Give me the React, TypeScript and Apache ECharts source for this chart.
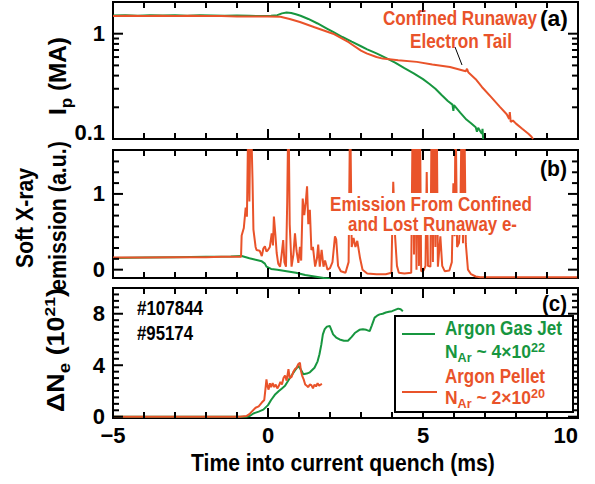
import React, { useEffect, useRef } from "react";
import * as echarts from "echarts";

const GREEN = "#17963F";
const ORANGE = "#E9532A";
const FF = "'Liberation Sans', Arial, Helvetica, sans-serif";

// Shared time axis (ms)
const timeMin = -5;
const timeMax = 10;
const timeStep = 5;
const timeMajorTicks = [-5, 0, 5, 10];
const timeMinorTicks = [-4, -3, -2, -1, 1, 2, 3, 4, 6, 7, 8, 9];

// (a) plasma current Ip (MA)
const ipGasJet: [number, number][] = [
  [-5.0, 1.49], [-4.6, 1.5], [-4.2, 1.48], [-3.8, 1.5], [-3.4, 1.49], [-3.0, 1.5],
  [-2.6, 1.48], [-2.2, 1.5], [-1.8, 1.49], [-1.4, 1.48], [-1.0, 1.49], [-0.6, 1.48],
  [-0.2, 1.47], [0.1, 1.48], [0.3, 1.5], [0.45, 1.56], [0.6, 1.59], [0.75, 1.57],
  [0.9, 1.53], [1.05, 1.48], [1.3, 1.38], [1.6, 1.25], [1.9, 1.12], [2.1, 1.04],
  [2.4, 0.93], [2.7, 0.84], [3.0, 0.76], [3.2, 0.71], [3.5, 0.65], [3.8, 0.59],
  [4.1, 0.53], [4.4, 0.47], [4.7, 0.42], [5.0, 0.37], [5.2, 0.335], [5.4, 0.3],
  [5.6, 0.262], [5.8, 0.23], [5.95, 0.212], [5.98, 0.185], [6.0, 0.21], [6.2, 0.178],
  [6.4, 0.153], [6.55, 0.141], [6.7, 0.129], [6.74, 0.117], [6.78, 0.128], [6.85, 0.118],
  [6.9, 0.112], [6.92, 0.125], [6.94, 0.1], [6.98, 0.108],
];
const ipPellet: [number, number][] = [
  [-5.0, 1.47], [-4.5, 1.48], [-4.0, 1.47], [-3.5, 1.48], [-3.0, 1.47], [-2.5, 1.48],
  [-2.0, 1.47], [-1.5, 1.47], [-1.0, 1.46], [-0.5, 1.46], [0.0, 1.46], [0.4, 1.45],
  [0.7, 1.38], [1.03, 1.29], [1.5, 1.15], [2.1, 1.0], [2.6, 0.83], [3.0, 0.69],
  [3.18, 0.65], [3.5, 0.6], [3.7, 0.58], [4.2, 0.56], [4.8, 0.54], [5.3, 0.51],
  [5.87, 0.483], [6.2, 0.455], [6.38, 0.44], [6.42, 0.465], [6.46, 0.43], [6.7, 0.37],
  [6.9, 0.312], [7.2, 0.25], [7.48, 0.202], [7.7, 0.172], [7.78, 0.155], [7.8, 0.18],
  [7.83, 0.145], [7.9, 0.15], [8.0, 0.14], [8.2, 0.125], [8.4, 0.112], [8.5, 0.105],
  [8.55, 0.1],
];

// (b) soft X-ray emission (a.u.)
const sxrGasJet: [number, number][] = [
  [-5.0, 0.155], [-4.0, 0.16], [-3.0, 0.165], [-2.0, 0.17], [-1.2, 0.175], [-0.85, 0.18],
  [-0.6, 0.15], [-0.4, 0.13], [-0.2, 0.11], [-0.1, 0.08], [-0.05, 0.04], [0.1, 0.01],
  [0.3, 0.0], [0.6, -0.02], [0.9, -0.04], [1.2, -0.07], [1.5, -0.09], [1.8, -0.11],
  [2.0, -0.12],
];
const sxrPellet: [number, number][] = [
  [-5.0, 0.16], [-4.0, 0.16], [-3.0, 0.165], [-2.0, 0.165], [-1.5, 0.17], [-0.87, 0.17],
  [-0.85, 0.45], [-0.78, 0.55], [-0.72, 0.82], [-0.68, 0.7], [-0.64, 1.9], [-0.6, 0.9],
  [-0.56, 2.2], [-0.5, 1.2], [-0.47, 0.53], [-0.4, 0.3], [-0.37, 0.26], [-0.27, 0.25],
  [-0.2, 0.18], [-0.15, 0.28], [-0.1, 0.31], [-0.05, 0.24], [0.0, 0.26], [0.06, 0.3],
  [0.12, 0.48], [0.16, 0.32], [0.19, 0.7], [0.24, 0.45], [0.28, 0.22], [0.33, 0.08],
  [0.39, 0.04], [0.44, 0.2], [0.49, 0.39], [0.53, 0.1], [0.58, 0.04], [0.62, 0.9],
  [0.66, 2.2], [0.7, 0.6], [0.76, 0.04], [0.82, 0.2], [0.87, 0.48], [0.92, 0.25],
  [0.98, 0.09], [1.03, 0.3], [1.07, 0.12], [1.12, 0.94], [1.17, 0.72], [1.22, 0.9],
  [1.26, 1.1], [1.3, 0.6], [1.35, 0.79], [1.4, 0.26], [1.45, 0.3], [1.52, 0.04],
  [1.58, 0.15], [1.62, 0.33], [1.67, 0.04], [1.73, 0.26], [1.79, 0.04], [1.84, 0.12],
  [1.92, 0.0], [2.0, 0.02], [2.08, 0.1], [2.16, 0.44], [2.2, 0.4], [2.26, 0.05],
  [2.35, -0.02], [2.5, -0.04], [2.6, 0.1], [2.65, 2.2], [2.7, 0.3], [2.76, 0.42],
  [2.82, 0.3], [2.88, 0.38], [2.97, 0.15], [3.05, 0.0], [3.2, -0.05], [3.5, -0.06],
  [3.8, -0.06], [3.98, -0.04], [4.04, 1.16], [4.1, 0.44], [4.16, 0.05], [4.22, -0.04],
  [4.4, -0.05], [4.62, -0.04], [4.67, 2.2], [4.71, 0.2], [4.75, 2.2], [4.79, 0.0],
  [4.83, 2.2], [4.87, 0.05], [4.9, 2.2], [4.94, -0.02], [5.02, -0.01], [5.08, 0.05],
  [5.12, 1.29], [5.16, 0.05], [5.24, 0.04], [5.28, 2.2], [5.32, 0.1], [5.36, 2.2],
  [5.4, 0.3], [5.44, 2.2], [5.48, 0.04], [5.56, 0.44], [5.62, 0.05], [5.7, -0.02],
  [5.85, -0.01], [5.93, 0.1], [5.98, 1.14], [6.02, 0.44], [6.05, 2.2], [6.1, 0.3],
  [6.16, 0.35], [6.2, 0.6], [6.25, 2.2], [6.29, 0.35], [6.33, 2.2], [6.38, 0.35],
  [6.45, 0.0], [6.55, -0.06], [6.7, -0.09], [6.85, -0.1], [8.0, -0.1], [10.0, -0.1],
];

// (c) electron inventory change (10^21)
const dneGasJet: [number, number][] = [
  [-5.0, 0.0], [-0.7, 0.0], [-0.6, 0.05], [-0.47, 0.25], [-0.3, 0.4], [-0.15, 0.55],
  [0.0, 0.9], [0.1, 1.3], [0.22, 1.7], [0.35, 2.0], [0.45, 2.2], [0.55, 2.4],
  [0.65, 2.8], [0.76, 3.2], [0.87, 3.6], [0.98, 3.95], [1.05, 3.7], [1.14, 3.3],
  [1.25, 3.35], [1.35, 3.45], [1.5, 3.8], [1.6, 4.3], [1.66, 4.85], [1.72, 5.6],
  [1.77, 6.4], [1.83, 6.8], [1.9, 7.0], [1.99, 7.05], [2.05, 6.7], [2.1, 6.4],
  [2.2, 6.15], [2.31, 6.0], [2.45, 5.9], [2.58, 5.9], [2.7, 6.2], [2.8, 6.5],
  [2.95, 6.75], [3.06, 6.8], [3.17, 6.75], [3.28, 6.65], [3.35, 7.1], [3.44, 7.7],
  [3.52, 7.85], [3.6, 7.95], [3.7, 8.0], [3.8, 8.1], [3.9, 8.15], [4.0, 8.2],
  [4.1, 8.3], [4.2, 8.4], [4.28, 8.35], [4.35, 8.2],
];
const dnePellet: [number, number][] = [
  [-5.0, 0.0], [-0.9, 0.0], [-0.7, 0.05], [-0.6, 0.2], [-0.5, 0.45], [-0.4, 0.7],
  [-0.3, 0.8], [-0.2, 1.1], [-0.12, 1.3], [-0.08, 2.2], [-0.05, 2.9], [-0.02, 2.4],
  [0.02, 2.1], [0.06, 2.6], [0.1, 2.3], [0.15, 2.6], [0.2, 2.3], [0.25, 2.5],
  [0.3, 2.2], [0.35, 2.4], [0.4, 2.7], [0.45, 2.5], [0.5, 3.0], [0.55, 3.2],
  [0.6, 2.8], [0.66, 3.7], [0.7, 3.0], [0.76, 3.1], [0.82, 3.5], [0.87, 3.7],
  [0.92, 3.8], [0.98, 4.1], [1.03, 4.2], [1.06, 3.6], [1.1, 3.2], [1.15, 2.9],
  [1.2, 2.5], [1.25, 2.4], [1.3, 2.3], [1.35, 2.5], [1.4, 2.45], [1.45, 2.2],
  [1.5, 2.5], [1.55, 2.35], [1.6, 2.6], [1.65, 2.4], [1.7, 2.5], [1.74, 2.55],
];

// Axis ranges and tick values
const ipRange = [0.1, 2];
const ipLabels = [0.1, 1];
const ipMinorTicks = [0.2, 0.3, 0.4, 0.5, 0.6, 0.7, 0.8, 0.9];
const sxrRange = [-0.11, 1.58];
const sxrLabels = [0, 1];
const sxrMinorTicks = [0.143, 0.286, 0.429, 0.571, 0.714, 0.857, 1.143, 1.286, 1.429];
const dneRange = [-0.1, 10];
const dneLabels = [0, 4, 8];
const dneMinorTicks = [0.5, 1, 1.5, 2, 2.5, 3, 3.5, 4.5, 5, 5.5, 6, 6.5, 7, 7.5, 8.5, 9, 9.5];

let measureCtx: CanvasRenderingContext2D | null = null;
function measure(t: string, size: number): number {
  if (!measureCtx) measureCtx = document.createElement("canvas").getContext("2d");
  if (!measureCtx) return t.length * size * 0.55;
  measureCtx.font = `bold ${size}px ${FF}`;
  return measureCtx.measureText(t).width;
}

type Run = { t: string; s: number; dy?: number };

// A row of bold text runs (sub/superscripts via dy), squeezed to a given width
function textRow(
  runs: Run[],
  x: number,
  y: number,
  width: number,
  fill: string,
  opts: { center?: boolean; vertical?: boolean } = {}
) {
  let cursor = 0;
  const children: any[] = [];
  for (const r of runs) {
    children.push({
      type: "text",
      x: cursor,
      y: r.dy ?? 0,
      z: 20,
      style: {
        text: r.t,
        fill,
        fontSize: r.s,
        fontWeight: "bold",
        fontFamily: FF,
        align: "left",
        verticalAlign: "middle",
        textAlign: "left",
        textVerticalAlign: "middle",
      },
    });
    cursor += measure(r.t, r.s);
  }
  if (opts.center) children.forEach((c) => (c.x -= cursor / 2));
  return {
    type: "group",
    x,
    y,
    rotation: opts.vertical ? Math.PI / 2 : 0,
    scaleX: width / cursor,
    children,
  };
}

const labelFont = {
  fontSize: 22,
  fontWeight: "bold" as const,
  fontFamily: FF,
  color: "#000",
  lineHeight: 14,
};
const noLine = { show: false, onZero: false };

function timeAxis(gridIndex: number, showLabel: boolean) {
  return {
    type: "value",
    gridIndex,
    position: "bottom",
    min: timeMin,
    max: timeMax,
    interval: timeStep,
    axisLine: noLine,
    axisTick: { show: false },
    splitLine: { show: false },
    axisLabel: {
      show: showLabel,
      ...labelFont,
      margin: 10,
      alignMaxLabel: "right",
      formatter: (v: number) => (v < 0 ? "\u2212" + Math.abs(v) : String(v)),
    },
  };
}

function valueAxis(gridIndex: number, range: number[], labels: number[], padBottom = 0) {
  return {
    type: "value",
    gridIndex,
    position: "left",
    min: range[0],
    max: range[1],
    axisLine: noLine,
    axisTick: { show: false },
    splitLine: { show: false },
    axisLabel: {
      customValues: labels,
      ...labelFont,
      margin: 8,
      padding: [0, 0, padBottom, 0],
    },
  };
}

function lineSeries(name: string, data: [number, number][], color: string, panel: number) {
  return {
    name,
    type: "line",
    xAxisIndex: panel,
    yAxisIndex: panel,
    data,
    showSymbol: false,
    symbol: "none",
    clip: true,
    silent: true,
    lineStyle: { color, width: 2 },
    itemStyle: { color },
  };
}

const panels = [
  { range: ipRange, major: ipLabels, minor: ipMinorTicks },
  { range: sxrRange, major: sxrLabels, minor: sxrMinorTicks },
  { range: dneRange, major: dneLabels, minor: dneMinorTicks },
];

// Inward tick marks on all four edges, placed with the grids' own scales
function tickElements(chart: echarts.ECharts): any[] {
  const out: any[] = [];
  const seg = (x1: number, y1: number, x2: number, y2: number) => {
    out.push({
      type: "line",
      z: 12,
      shape: { x1, y1, x2, y2 },
      style: { stroke: "#000", lineWidth: 2 },
    });
  };
  panels.forEach((p, i) => {
    const px = (x: number, y: number): number[] | null => {
      try {
        const r = chart.convertToPixel({ xAxisIndex: i, yAxisIndex: i } as any, [x, y]) as any;
        return r && isFinite(r[0]) && isFinite(r[1]) ? r : null;
      } catch (e) {
        return null;
      }
    };
    const xTicks: number[][] = [
      ...timeMajorTicks.map((t) => [t, 10]),
      ...timeMinorTicks.map((t) => [t, 6]),
    ];
    xTicks.forEach(([t, len]) => {
      const b = px(t, p.range[0]);
      const top = px(t, p.range[1]);
      if (b) seg(b[0], b[1], b[0], b[1] - len);
      if (top) seg(top[0], top[1], top[0], top[1] + len);
    });
    const yTicks: number[][] = [
      ...p.major.map((v) => [v, 10]),
      ...p.minor.map((v) => [v, 6]),
    ];
    yTicks.forEach(([v, len]) => {
      const l = px(timeMin, v);
      const r = px(timeMax, v);
      if (l) seg(l[0], l[1], l[0] + len, l[1]);
      if (r) seg(r[0], r[1], r[0] - len, r[1]);
    });
  });
  return out;
}

export default function App() {
  const ref = useRef<HTMLDivElement>(null);

  useEffect(() => {
    if (!ref.current) return;
    const chart = echarts.init(ref.current, undefined, { renderer: "svg" });

    const grids = [
      { left: 113, top: 2, width: 465, height: 137 },
      { left: 113, top: 150, width: 465, height: 128 },
      { left: 113, top: 288, width: 465, height: 130 },
    ].map((g) => ({
      ...g,
      show: true,
      borderColor: "#000",
      borderWidth: 2,
      backgroundColor: "transparent",
    }));

    const xAxis = [timeAxis(0, false), timeAxis(1, false), timeAxis(2, true)];

    const yAxis = [
      {
        type: "log",
        logBase: 10,
        gridIndex: 0,
        position: "left",
        min: ipRange[0],
        max: ipRange[1],
        axisLine: noLine,
        axisTick: { show: false },
        splitLine: { show: false },
        axisLabel: {
          ...labelFont,
          margin: 8,
          showMaxLabel: false,
          verticalAlignMinLabel: "bottom",
          formatter: (v: number) =>
            ipLabels.some((l) => Math.abs(l - v) < 1e-9) ? String(v) : "",
        },
      },
      valueAxis(1, sxrRange, sxrLabels),
      valueAxis(2, dneRange, dneLabels, 3),
    ];

    const series = [
      lineSeries("Ip gas jet", ipGasJet, GREEN, 0),
      lineSeries("Ip pellet", ipPellet, ORANGE, 0),
      lineSeries("SXR gas jet", sxrGasJet, GREEN, 1),
      lineSeries("SXR pellet", sxrPellet, ORANGE, 1),
      lineSeries("Argon Gas Jet", dneGasJet, GREEN, 2),
      lineSeries("Argon Pellet", dnePellet, ORANGE, 2),
    ];

    const elements: any[] = [
      // axis titles
      textRow(
        [{ t: "I", s: 23 }, { t: "p", s: 16, dy: 8 }, { t: " (MA)", s: 23 }],
        58, 76, 78, "#000", { center: true, vertical: true }
      ),
      textRow([{ t: "Soft X-ray", s: 23 }], 25, 218, 100, "#000", { center: true, vertical: true }),
      textRow([{ t: "emission (a.u.)", s: 23 }], 58, 216, 150, "#000", { center: true, vertical: true }),
      textRow(
        [
          { t: "\u0394N", s: 23 },
          { t: "e", s: 16, dy: 8 },
          { t: " (10", s: 23 },
          { t: "21", s: 15, dy: -7 },
          { t: ")", s: 23 },
        ],
        56, 350, 124, "#000", { center: true, vertical: true }
      ),
      textRow([{ t: "Time into current quench (ms)", s: 23 }], 343, 463, 304, "#000", { center: true }),
      // panel tags
      textRow([{ t: "(a)", s: 22 }], 540, 19, 28, "#000"),
      textRow([{ t: "(b)", s: 22 }], 540, 168, 27, "#000"),
      textRow([{ t: "(c)", s: 22 }], 542, 304, 25, "#000"),
      // annotations
      textRow([{ t: "Confined Runaway", s: 21 }], 383, 18, 154, ORANGE),
      textRow([{ t: "Electron Tail", s: 21 }], 410, 41, 102, ORANGE),
      {
        type: "line",
        z: 20,
        shape: { x1: 455, y1: 47, x2: 462, y2: 65 },
        style: { stroke: "#000", lineWidth: 1 },
      },
      // white backing behind the panel (b) note
      {
        type: "rect",
        z: 15,
        shape: { x: 327, y: 193, width: 208, height: 42 },
        style: { fill: "#fff" },
      },
      textRow([{ t: "Emission From Confined", s: 21 }], 330, 204, 202, ORANGE),
      textRow([{ t: "and Lost Runaway e-", s: 21 }], 348, 224, 169, ORANGE),
      textRow([{ t: "#107844", s: 20 }], 137, 308, 66, "#000"),
      textRow([{ t: "#95174", s: 20 }], 137, 333, 56, "#000"),
      // legend box
      {
        type: "rect",
        z: 15,
        shape: { x: 395, y: 316, width: 178, height: 96 },
        style: { fill: "#fff", stroke: "#000", lineWidth: 2 },
      },
      {
        type: "line",
        z: 20,
        shape: { x1: 402, y1: 334, x2: 435, y2: 334 },
        style: { stroke: GREEN, lineWidth: 2 },
      },
      textRow([{ t: "Argon Gas Jet", s: 21 }], 445, 328, 117, GREEN),
      textRow(
        [
          { t: "N", s: 18 },
          { t: "Ar", s: 13, dy: 5 },
          { t: " ~ 4\u00d710", s: 18 },
          { t: "22", s: 13, dy: -5 },
        ],
        445, 352, 100, GREEN
      ),
      textRow([{ t: "Argon Pellet", s: 21 }], 445, 376, 100, ORANGE),
      {
        type: "line",
        z: 20,
        shape: { x1: 402, y1: 392, x2: 437, y2: 392 },
        style: { stroke: ORANGE, lineWidth: 2 },
      },
      textRow(
        [
          { t: "N", s: 18 },
          { t: "Ar", s: 13, dy: 5 },
          { t: " ~ 2\u00d710", s: 18 },
          { t: "20", s: 13, dy: -5 },
        ],
        445, 398, 100, ORANGE
      ),
    ];

    chart.setOption({
      animation: false,
      backgroundColor: "#fff",
      grid: grids,
      xAxis,
      yAxis,
      series,
    });

    let ticks: any[] = [];
    try {
      ticks = tickElements(chart);
    } catch (e) {
      ticks = [];
    }
    chart.setOption({ graphic: { elements: [...ticks, ...elements] } });

    return () => chart.dispose();
  }, []);

  return (
    <div
      ref={ref}
      style={{ position: "absolute", left: 0, top: 0, width: 595, height: 484 }}
    />
  );
}
